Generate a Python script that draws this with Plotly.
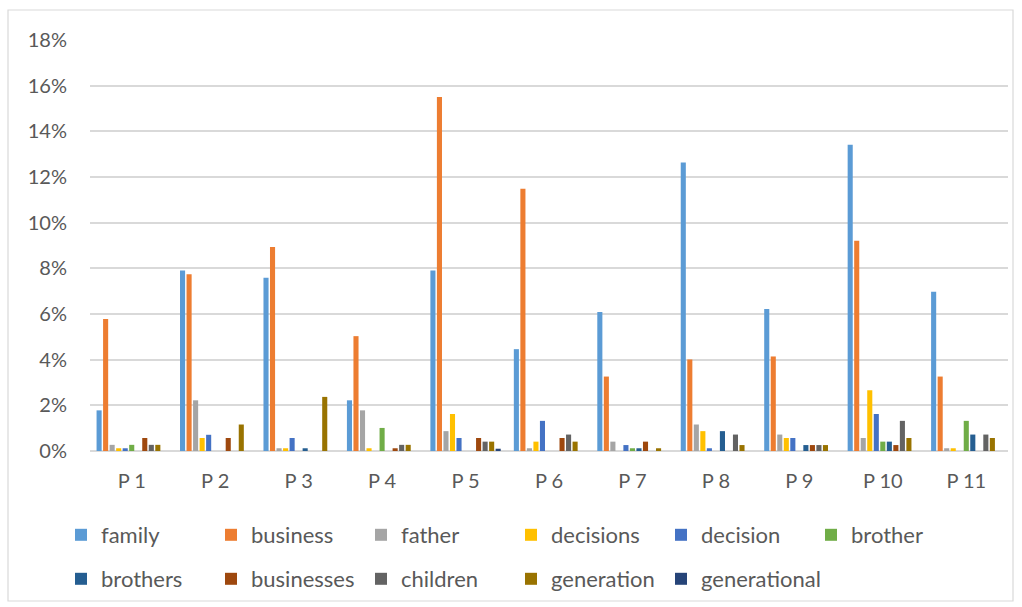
import plotly.graph_objects as go

# Share of each keyword per participant (percent of words)
participants = ["P 1", "P 2", "P 3", "P 4", "P 5", "P 6", "P 7", "P 8", "P 9", "P 10", "P 11"]

family       = [1.78, 7.91, 7.59, 2.22, 7.90, 4.46, 6.09, 12.64, 6.22, 13.41, 6.97]
business     = [5.78, 7.74, 8.93, 5.03, 15.50, 11.48, 3.26, 4.01, 4.14, 9.21, 3.26]
father       = [0.27, 2.22, 0.12, 1.78, 0.87, 0.12, 0.41, 1.16, 0.72, 0.57, 0.12]
decisions    = [0.12, 0.57, 0.12, 0.12, 1.62, 0.41, 0, 0.87, 0.57, 2.66, 0.12]
decision     = [0.12, 0.71, 0.57, 0, 0.57, 1.32, 0.26, 0.12, 0.57, 1.62, 0]
brother      = [0.27, 0, 0, 1.01, 0, 0, 0.12, 0, 0, 0.41, 1.32]
brothers     = [0, 0, 0.12, 0, 0, 0, 0.12, 0.87, 0.26, 0.41, 0.72]
businesses   = [0.57, 0.57, 0, 0.12, 0.57, 0.57, 0.41, 0, 0.26, 0.26, 0]
children     = [0.27, 0, 0, 0.27, 0.41, 0.72, 0, 0.72, 0.26, 1.32, 0.72]
generation   = [0.27, 1.16, 2.37, 0.27, 0.41, 0.41, 0.12, 0.26, 0.26, 0.57, 0.57]
generational = [0, 0, 0, 0, 0.10, 0, 0, 0, 0, 0, 0]

series_names = ["family", "business", "father", "decisions", "decision", "brother",
                "brothers", "businesses", "children", "generation", "generational"]
series_values = [family, business, father, decisions, decision, brother,
                 brothers, businesses, children, generation, generational]
series_colors = ["#5B9BD5", "#ED7D31", "#A5A5A5", "#FFC000", "#4472C4", "#70AD47",
                 "#255E91", "#9E480E", "#636363", "#997300", "#264478"]

tick_vals = [0, 2, 4, 6, 8, 10, 12, 14, 16, 18]
tick_text = [f"{v}%" for v in tick_vals]

FONT = "Lato"
TEXT = "#595959"
GRID = "#D9D9D9"

# legend rows: first six series on row one, the rest on row two;
# the last entry gets its own legend so its long label is not clipped
legend_of = ["legend"] * 6 + ["legend2"] * 4 + ["legend3"]

fig = go.Figure()
for name, vals, col, lg in zip(series_names, series_values, series_colors, legend_of):
    fig.add_trace(go.Bar(
        x=participants, y=vals, name=name,
        marker=dict(color=col, line=dict(width=0)),
        legend=lg,
    ))

# plot area in pixels: x 90..1008, y 40..451
L, R, T, B = 90, 14, 40, 156
W, H = 1022, 607
pw, ph = W - L - R, H - T - B

def px_x(x):
    return (x - L) / pw

def px_y(y):
    return (H - B - y) / ph

# entries are spaced 150 px apart (entrywidth + 40 px text gap + 5 px item gap)
legend_common = dict(
    orientation="h", xanchor="left", yanchor="middle",
    font=dict(family=FONT, size=22, color=TEXT),
    entrywidth=105, entrywidthmode="pixels",
    bgcolor="rgba(0,0,0,0)", itemclick=False, itemdoubleclick=False,
)
row1_y, row2_y, left_x = 535, 579, 61

fig.update_layout(
    width=W, height=H,
    margin=dict(l=L, r=R, t=T, b=B, autoexpand=False),
    paper_bgcolor="white", plot_bgcolor="white",
    barmode="group", bargap=0.14, bargroupgap=0.22,
    font=dict(family=FONT, color=TEXT),
    legend=dict(x=px_x(left_x), y=px_y(row1_y), **legend_common),
    legend2=dict(x=px_x(left_x), y=px_y(row2_y), **legend_common),
    legend3=dict(x=px_x(left_x + 4 * 150), y=px_y(row2_y),
                 **{**legend_common, "entrywidth": 140}),
    xaxis=dict(
        showgrid=False, showline=False, ticks="",
        tickfont=dict(family=FONT, size=20, color=TEXT),
        ticklabelstandoff=16,
    ),
    yaxis=dict(
        range=[0, 18], tickvals=tick_vals, ticktext=tick_text,
        showgrid=True, gridcolor=GRID, gridwidth=1.5,
        zeroline=True, zerolinecolor=GRID, zerolinewidth=1.5,
        showline=False, ticks="",
        tickfont=dict(family=FONT, size=20, color=TEXT),
        ticklabelstandoff=22,
    ),
    shapes=[dict(
        type="rect", xref="paper", yref="paper",
        x0=px_x(8), x1=px_x(1013), y0=px_y(601), y1=px_y(10),
        line=dict(color=GRID, width=1.2), fillcolor="rgba(0,0,0,0)", layer="below",
    )],
)

fig.write_html("out.html")
